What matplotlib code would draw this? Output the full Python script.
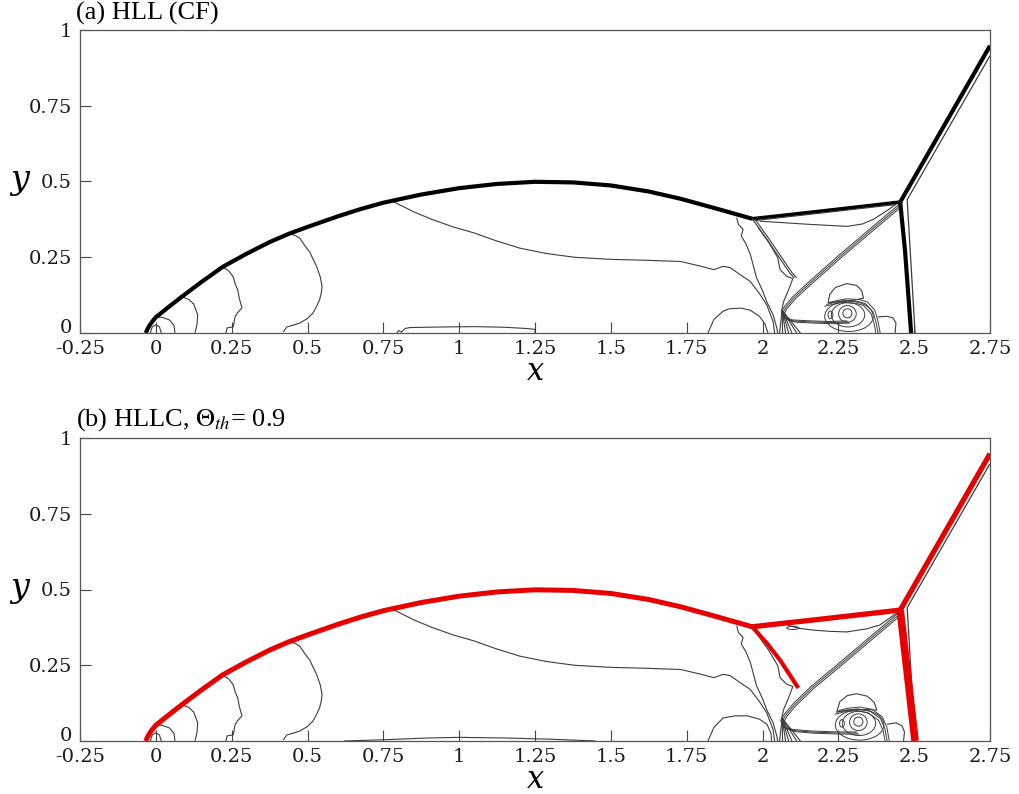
import matplotlib
matplotlib.use("Agg")
import matplotlib.pyplot as plt
from matplotlib.patches import Ellipse

plt.rcParams['mathtext.fontset'] = 'stix'

# ---------------- axis ticks / labels ----------------
x_ticks = [-0.25, 0, 0.25, 0.5, 0.75, 1, 1.25, 1.5, 1.75, 2, 2.25, 2.5, 2.75]
x_tick_labels = ["-0.25", "0", "0.25", "0.5", "0.75", "1", "1.25", "1.5", "1.75", "2", "2.25", "2.5", "2.75"]
y_ticks = [0, 0.25, 0.5, 0.75, 1]
y_tick_labels = ["0", "0.25", "0.5", "0.75", "1"]
titles = ["(a) HLL (CF)", r"(b) HLLC, $\Theta_{th}$= 0.9"]

# ---------------- shock geometry ----------------
bow_shock = [(-0.033, 0.0), (-0.028, 0.012), (-0.02, 0.026), (-0.01, 0.04), (0.0, 0.052),
             (0.02, 0.068), (0.05, 0.092), (0.086, 0.12), (0.15, 0.168), (0.22, 0.218),
             (0.3, 0.262), (0.375, 0.3), (0.44, 0.328), (0.5, 0.35), (0.6, 0.385),
             (0.675, 0.409), (0.75, 0.43), (0.875, 0.457), (1.0, 0.478), (1.125, 0.492),
             (1.25, 0.499), (1.375, 0.497), (1.5, 0.487), (1.625, 0.467), (1.73, 0.443),
             (1.85, 0.41), (1.966, 0.377)]
reflected_shock = [(1.966, 0.377), (2.2, 0.403), (2.454, 0.432)]
mach_stem = [(2.454, 0.432), (2.47, 0.27), (2.49, 0.0)]
mach_stem_b = [(2.454, 0.432), (2.503, 0.0)]
incident_shock = [(2.454, 0.432), (2.75, 0.948)]
incident_trail = [(2.75, 0.915), (2.477, 0.44), (2.503, 0.0)]
second_shock = [(1.966, 0.377), (2.014, 0.31), (2.058, 0.245), (2.09, 0.198), (2.105, 0.182)]
second_shock_b = [(1.966, 0.377), (2.014, 0.323), (2.058, 0.267), (2.09, 0.218), (2.118, 0.175)]

# ---------------- contour lines ----------------
arc_tiny = [(-0.018, 0.0), (-0.012, 0.02), (0.0, 0.027), (0.012, 0.02), (0.018, 0.0)]
arc_small = [(0.0, 0.052), (0.02, 0.052), (0.045, 0.043), (0.06, 0.025), (0.063, 0.0)]
arc_1 = [(0.086, 0.12), (0.11, 0.11), (0.125, 0.095), (0.138, 0.06), (0.136, 0.03), (0.129, 0.0)]
arc_2 = [(0.22, 0.218), (0.24, 0.205), (0.255, 0.186), (0.262, 0.16), (0.27, 0.143),
         (0.275, 0.115), (0.284, 0.083), (0.268, 0.065), (0.261, 0.053), (0.258, 0.035),
         (0.255, 0.02), (0.235, 0.017), (0.231, 0.0)]
arc_3 = [(0.44, 0.328), (0.46, 0.322), (0.475, 0.312), (0.49, 0.29), (0.508, 0.266),
         (0.52, 0.24), (0.53, 0.22), (0.542, 0.185), (0.548, 0.153), (0.545, 0.13),
         (0.54, 0.11), (0.53, 0.088), (0.518, 0.066), (0.5, 0.048), (0.475, 0.033),
         (0.45, 0.025), (0.432, 0.02), (0.42, 0.003)]
mid_line = [(0.78, 0.435), (0.85, 0.4), (0.91, 0.375), (0.98, 0.35), (1.05, 0.33),
            (1.12, 0.305), (1.2, 0.28), (1.29, 0.262), (1.38, 0.25), (1.5, 0.243),
            (1.62, 0.24), (1.73, 0.236), (1.79, 0.222), (1.84, 0.209), (1.87, 0.22),
            (1.893, 0.216), (1.93, 0.19), (1.96, 0.17), (1.99, 0.13), (2.014, 0.093),
            (2.035, 0.037), (2.04, 0.0)]
line_a = [(1.915, 0.381), (1.92, 0.359), (1.936, 0.342), (1.93, 0.32), (1.945, 0.295),
          (1.96, 0.259), (1.98, 0.183), (2.0, 0.14), (2.014, 0.103), (2.035, 0.06),
          (2.047, 0.017), (2.05, 0.0)]
line_c = [(1.985, 0.349), (2.02, 0.3), (2.05, 0.249), (2.058, 0.209), (2.08, 0.187),
          (2.1, 0.18), (2.085, 0.14), (2.07, 0.105), (2.062, 0.07)]
fan_bottom_x = [2.056, 2.066, 2.076, 2.086, 2.097, 2.113, 2.125]
fan_top = (2.065, 0.075)
blob_a = [(1.82, 0.0), (1.84, 0.045), (1.87, 0.072), (1.89, 0.08), (1.93, 0.082),
          (1.96, 0.075), (1.99, 0.055), (2.008, 0.03), (2.018, 0.0)]
blob_b = [(1.82, 0.0), (1.84, 0.045), (1.87, 0.076), (1.91, 0.083), (1.95, 0.083),
          (1.99, 0.072), (2.015, 0.055), (2.028, 0.025), (2.03, 0.0)]
bottom_a = [(0.795, 0.0), (0.8, 0.008), (0.81, 0.003), (0.822, 0.015), (0.838, 0.018),
            (0.95, 0.02), (1.05, 0.021), (1.15, 0.019), (1.22, 0.015), (1.25, 0.012), (1.25, 0.0)]
bottom_b = [(0.62, 0.0), (0.75, 0.004), (0.9, 0.01), (1.0, 0.012), (1.15, 0.01),
            (1.3, 0.006), (1.45, 0.0)]
under_reflected_a = [(1.99, 0.369), (2.07, 0.364), (2.147, 0.359), (2.22, 0.355),
                     (2.28, 0.352), (2.33, 0.36), (2.365, 0.375), (2.405, 0.4), (2.44, 0.425)]
under_reflected_b = [(2.08, 0.383), (2.12, 0.372), (2.167, 0.366), (2.22, 0.362),
                     (2.277, 0.36), (2.343, 0.37), (2.387, 0.383), (2.425, 0.41), (2.45, 0.428)]
jet_a = [(2.452, 0.426), (2.35, 0.34), (2.25, 0.255), (2.16, 0.175), (2.1, 0.12),
         (2.072, 0.087), (2.062, 0.068), (2.07, 0.052), (2.1, 0.043), (2.16, 0.04),
         (2.22, 0.038), (2.28, 0.04)]
jet_b = [(2.452, 0.426), (2.35, 0.34), (2.25, 0.255), (2.16, 0.18), (2.1, 0.122),
         (2.072, 0.088), (2.06, 0.068), (2.068, 0.048), (2.1, 0.038), (2.16, 0.033),
         (2.246, 0.03), (2.31, 0.03)]
cap_arc_a = [(2.216, 0.1), (2.25, 0.108), (2.278, 0.113), (2.32, 0.11), (2.345, 0.103),
             (2.37, 0.076), (2.38, 0.043), (2.388, 0.0)]
cap_arc_b = [(2.25, 0.1), (2.28, 0.108), (2.32, 0.112), (2.36, 0.105), (2.395, 0.08),
             (2.41, 0.045), (2.418, 0.0)]
outer_right_a = [(2.38, 0.053), (2.41, 0.055), (2.43, 0.05), (2.44, 0.033), (2.437, 0.0)]
outer_right_b = [(2.41, 0.055), (2.44, 0.06), (2.46, 0.05), (2.468, 0.03), (2.465, 0.0)]
dome_a = [(2.216, 0.1), (2.222, 0.128), (2.24, 0.15), (2.278, 0.163), (2.31, 0.157),
          (2.327, 0.14), (2.333, 0.115), (2.3, 0.108), (2.26, 0.105), (2.216, 0.1)]
dome_b = [(2.245, 0.097), (2.255, 0.13), (2.28, 0.15), (2.31, 0.156), (2.345, 0.148),
          (2.368, 0.128), (2.377, 0.102), (2.34, 0.104), (2.29, 0.102), (2.245, 0.097)]
# vortex rings: (centre x, centre y, width, height)
vortex_a = [(2.28, 0.065, 0.03, 0.03), (2.28, 0.063, 0.058, 0.055), (2.282, 0.06, 0.11, 0.08),
            (2.224, 0.06, 0.016, 0.025), (2.285, 0.055, 0.16, 0.1)]
vortex_b = [(2.316, 0.064, 0.03, 0.03), (2.316, 0.062, 0.058, 0.055), (2.318, 0.058, 0.11, 0.08),
            (2.262, 0.058, 0.016, 0.025), (2.32, 0.053, 0.16, 0.1), (2.1, 0.373, 0.04, 0.01)]

CL = '#3c3c3c'
RED = '#e80000'


def draw(ax, pts, color=CL, lw=0.8, **kw):
    xs = [p[0] for p in pts]
    ys = [p[1] for p in pts]
    ax.plot(xs, ys, color=color, lw=lw, solid_capstyle='butt', solid_joinstyle='round', **kw)


fig = plt.figure(figsize=(10.19, 7.94), dpi=100)
W, H = 1019, 794
ax_a = fig.add_axes([80 / W, 1 - 333 / H, 910 / W, 303 / H])
ax_b = fig.add_axes([80 / W, 1 - 741 / H, 910 / W, 303 / H])

for k, ax in enumerate([ax_a, ax_b]):
    panel_b = (k == 1)
    for arc in [arc_tiny, arc_small, arc_1, arc_2, arc_3, mid_line, line_a, line_c]:
        draw(ax, arc)
    for xb in fan_bottom_x:
        draw(ax, [fan_top, (xb, 0.0)])
    draw(ax, blob_b if panel_b else blob_a)
    draw(ax, bottom_b if panel_b else bottom_a)
    draw(ax, under_reflected_b if panel_b else under_reflected_a)
    jet = jet_b if panel_b else jet_a
    for off in [0.0, 0.006, 0.012]:
        draw(ax, [(p[0] + off * 0.7, p[1] - off * 0.6) for p in jet], lw=0.7)
    cap = cap_arc_b if panel_b else cap_arc_a
    for off in [0.0, 0.006, 0.012]:
        draw(ax, [(p[0] - off, p[1] - off) for p in cap], lw=0.7)
    draw(ax, outer_right_b if panel_b else outer_right_a)
    draw(ax, dome_b if panel_b else dome_a)
    for (cx, cy, w, h) in (vortex_b if panel_b else vortex_a):
        ax.add_patch(Ellipse((cx, cy), w, h, fill=False, ec=CL, lw=0.7))
    draw(ax, incident_trail, lw=0.9)

    if not panel_b:
        draw(ax, bow_shock, color='black', lw=3.0)
        draw(ax, reflected_shock, color='black', lw=2.6)
        draw(ax, [(1.975, 0.371), (2.44, 0.424)], lw=0.8)
        draw(ax, mach_stem, color='black', lw=3.0)
        draw(ax, incident_shock, color='black', lw=3.0)
        draw(ax, second_shock, lw=0.8)
        draw(ax, [(p[0] + 0.008, p[1]) for p in second_shock], lw=0.8)
    else:
        draw(ax, bow_shock, color='black', lw=1.2)
        draw(ax, bow_shock, color=RED, lw=3.6)
        draw(ax, reflected_shock, color=RED, lw=3.8)
        draw(ax, mach_stem_b, color=RED, lw=5.5)
        draw(ax, incident_shock, color=RED, lw=3.8)
        draw(ax, second_shock_b, color=RED, lw=3.0)

    ax.set_xlim(-0.25, 2.75)
    ax.set_ylim(0, 1)
    ax.set_xticks(x_ticks)
    ax.set_xticklabels(x_tick_labels)
    ax.set_yticks(y_ticks)
    ax.set_yticklabels(y_tick_labels)
    ax.tick_params(direction='in', length=8, width=0.8, color='#444444',
                   labelsize=14, top=False, right=False)
    ax.tick_params(axis='x', pad=5)
    ax.tick_params(axis='y', pad=6)
    for lab in ax.get_xticklabels() + ax.get_yticklabels():
        lab.set_family('DejaVu Serif')
        lab.set_color('#1a1a1a')
    ylabs = ax.get_yticklabels()
    for lab in ylabs:
        lab.set_va('center_baseline')
    ylabs[0].set_va('baseline')
    for sp in ax.spines.values():
        sp.set_color('#555555')
        sp.set_linewidth(0.9)
    ax.set_xlabel('$x$', fontsize=22, math_fontfamily='dejavuserif')
    ax.xaxis.set_label_coords(0.5, -0.128)
    ax.xaxis.label.set_va('center')
    ax.set_ylabel('$y$', fontsize=24, math_fontfamily='dejavuserif', rotation=0)
    ax.yaxis.set_label_coords(-0.066, 0.5)
    ax.yaxis.label.set_va('center')
    ax.text(-0.004, 1.015, titles[k], transform=ax.transAxes, fontsize=19,
            family='Liberation Serif', ha='left', va='bottom')

fig.savefig('out.png', dpi=100)
